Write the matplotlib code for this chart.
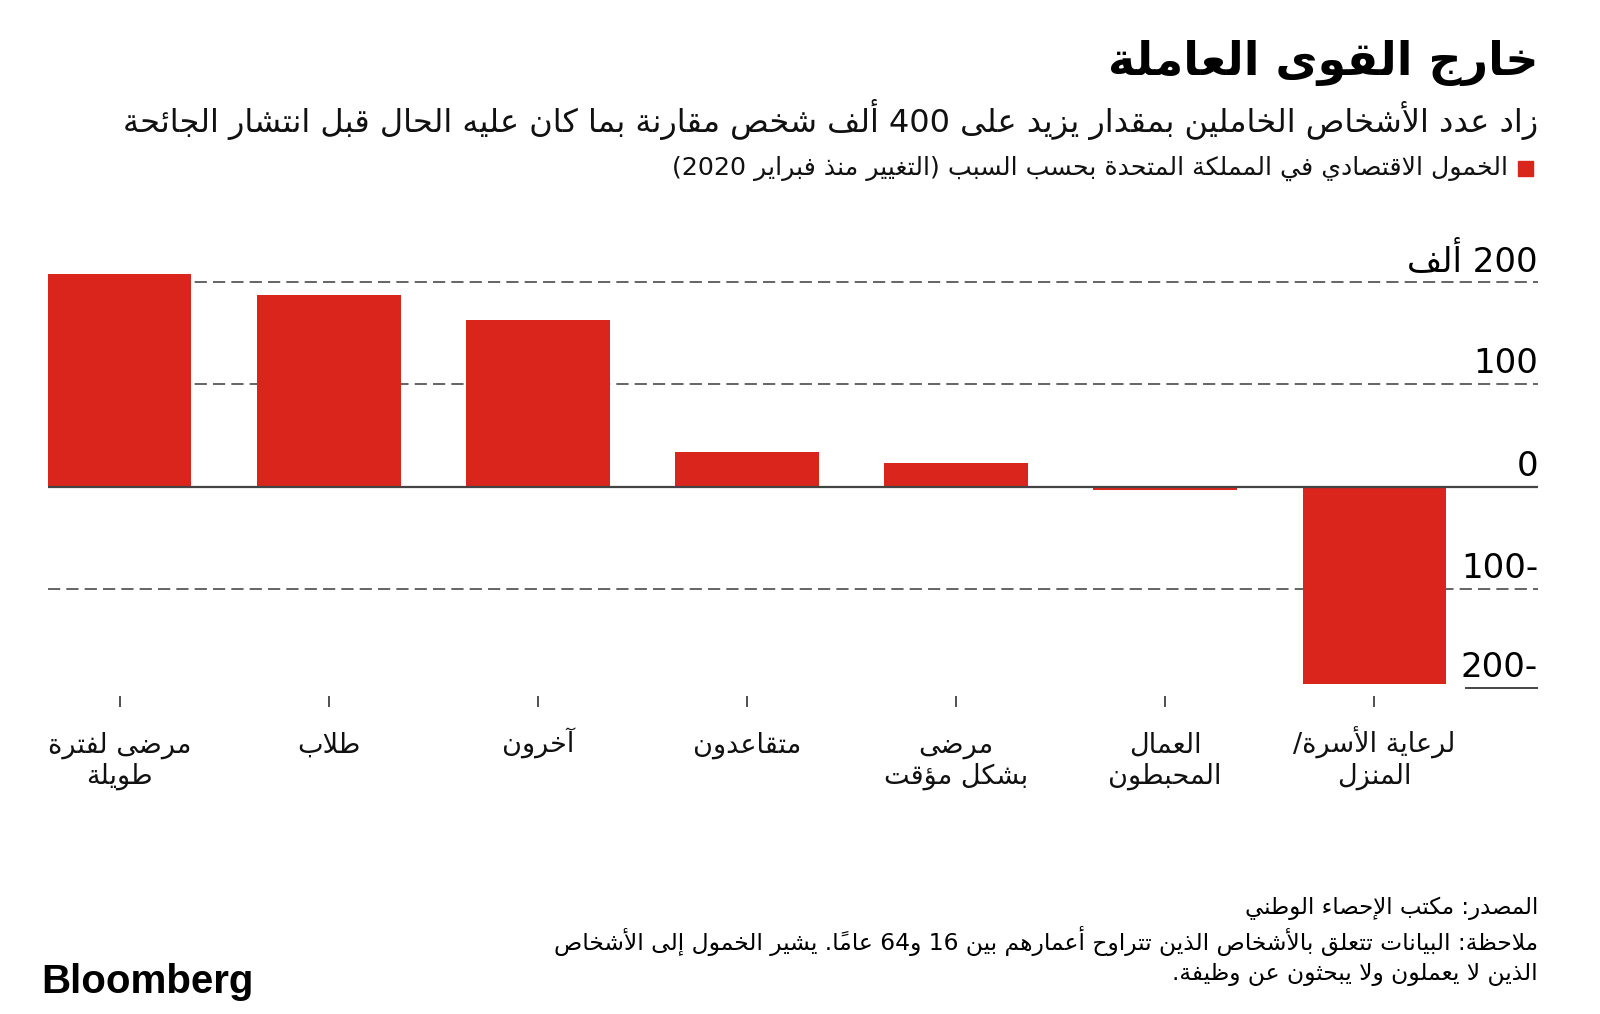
import matplotlib
matplotlib.use("Agg")
import matplotlib.pyplot as plt
from matplotlib.patches import Rectangle
import matplotlib.transforms as mtransforms

# data
categories = ["مرضى لفترة\nطويلة", "طلاب", "آخرون", "متقاعدون",
              "مرضى\nبشكل مؤقت", "العمال\nالمحبطون", "لرعاية الأسرة/\nالمنزل"]
values = [208, 187, 163, 34, 23, -3, -193]
yticks = [200, 100, 0, -100, -200]
ytick_labels = ["200 ألف", "100", "0", "-100", "-200"]

title = "خارج القوى العاملة"
subtitle = "زاد عدد الأشخاص الخاملين بمقدار يزيد على 400 ألف شخص مقارنة بما كان عليه الحال قبل انتشار الجائحة"
legend_label = "الخمول الاقتصادي في المملكة المتحدة بحسب السبب (التغيير منذ فبراير 2020)"
source = "المصدر: مكتب الإحصاء الوطني"
note = ("ملاحظة: البيانات تتعلق بالأشخاص الذين تتراوح أعمارهم بين 16 و64 عاماً. يشير الخمول إلى الأشخاص\n"
        "الذين لا يعملون ولا يبحثون عن وظيفة.")

RED = "#da251d"
GRID = "#3a3a3a"

# matplotlib has no arabic shaping, so pick presentation forms by hand
# letter -> (isolated form, number of forms: 0 none, 2 right-joining, 4 dual)
AR_FORMS = {
    'ء': (0xFE80, 0), 'آ': (0xFE81, 2), 'أ': (0xFE83, 2), 'ؤ': (0xFE85, 2),
    'إ': (0xFE87, 2), 'ئ': (0xFE89, 4), 'ا': (0xFE8D, 2), 'ب': (0xFE8F, 4),
    'ة': (0xFE93, 2), 'ت': (0xFE95, 4), 'ث': (0xFE99, 4), 'ج': (0xFE9D, 4),
    'ح': (0xFEA1, 4), 'خ': (0xFEA5, 4), 'د': (0xFEA9, 2), 'ذ': (0xFEAB, 2),
    'ر': (0xFEAD, 2), 'ز': (0xFEAF, 2), 'س': (0xFEB1, 4), 'ش': (0xFEB5, 4),
    'ص': (0xFEB9, 4), 'ض': (0xFEBD, 4), 'ط': (0xFEC1, 4), 'ظ': (0xFEC5, 4),
    'ع': (0xFEC9, 4), 'غ': (0xFECD, 4), 'ف': (0xFED1, 4), 'ق': (0xFED5, 4),
    'ك': (0xFED9, 4), 'ل': (0xFEDD, 4), 'م': (0xFEE1, 4), 'ن': (0xFEE5, 4),
    'ه': (0xFEE9, 4), 'و': (0xFEED, 2), 'ى': (0xFEEF, 2), 'ي': (0xFEF1, 4),
}
LAM_ALEF = {'آ': 0xFEF5, 'أ': 0xFEF7, 'إ': 0xFEF9, 'ا': 0xFEFB}
MIRROR = {'(': ')', ')': '('}


def is_mark(c):
    return '\u064B' <= c <= '\u0652'


def shape_line(s):
    n = len(s)

    def neighbour(i, step):
        j = i + step
        while 0 <= j < n and is_mark(s[j]):
            j += step
        return s[j] if 0 <= j < n else None

    out = []
    i = 0
    while i < n:
        c = s[i]
        if c not in AR_FORMS:
            out.append(c)
            i += 1
            continue
        prev = neighbour(i, -1)
        joins_prev = prev in AR_FORMS and AR_FORMS[prev][1] == 4
        if c == 'ل' and i + 1 < n and s[i + 1] in LAM_ALEF:
            out.append(chr(LAM_ALEF[s[i + 1]] + (1 if joins_prev else 0)))
            i += 2
            continue
        base, kind = AR_FORMS[c]
        nxt = neighbour(i, 1)
        joins_next = kind == 4 and nxt in AR_FORMS and AR_FORMS[nxt][1] > 0
        if kind == 0:
            form = base
        elif joins_prev and joins_next:
            form = base + 3
        elif joins_prev:
            form = base + 1
        elif joins_next:
            form = base + 2
        else:
            form = base
        out.append(chr(form))
        i += 1

    # clusters (base + marks), then runs of digits kept left-to-right
    clusters = []
    for c in out:
        if is_mark(c) and clusters:
            clusters[-1] += c
        else:
            clusters.append(c)
    runs = []
    for cl in clusters:
        dig = cl.isdigit()
        if runs and runs[-1][0] == dig:
            runs[-1][1].append(cl)
        else:
            runs.append([dig, [cl]])
    vis = []
    for dig, cls in reversed(runs):
        if dig:
            vis.extend(cls)
        else:
            vis.extend(MIRROR.get(x, x) for x in reversed(cls))
    return ''.join(vis)


def ar(s):
    return '\n'.join(shape_line(line) for line in s.split('\n'))


plt.rcParams['font.family'] = ['DejaVu Sans']

W, H = 1600, 1014
fig = plt.figure(figsize=(W / 100, H / 100), dpi=100)


def fx(px):
    return px / W


def fy(py):
    return 1 - py / H


ax = fig.add_axes([fx(48), fy(706.8), fx(1538) - fx(48), fy(266.6) - fy(706.8)])
x = list(range(len(values)))
ax.bar(x, values, width=0.686, color=RED, zorder=3)
ax.set_xlim(-0.343, 6.783)
ax.set_ylim(-215, 215)

for v in [200, 100, -100]:
    ax.axhline(v, color=GRID, lw=1.1, dashes=(8, 4), zorder=1)
ax.axhline(0, color='#444444', lw=1.6, zorder=4)
ax.axhline(-196.5, xmin=0.9515, xmax=1.0, color='#444444', lw=1.4, zorder=4)

ytrans = mtransforms.blended_transform_factory(ax.transAxes, ax.transData)
for v, lab in zip(yticks, ytick_labels):
    yy = v + 10.7 if v != -200 else -196.5 + 10.7
    ax.text(1.0, yy, ar(lab), transform=ytrans, ha='right', va='baseline',
            fontsize=24.5, color='black')

for s in ax.spines.values():
    s.set_visible(False)
ax.set_yticks([])
ax.set_xticks(x)
ax.set_xticklabels([])
ax.tick_params(axis='x', direction='in', length=8, width=1.2, color='#333333')

# category labels under the ticks (baseline of last line given)
xtrans = mtransforms.blended_transform_factory(ax.transData, fig.transFigure)
for xi, cat in zip(x, categories):
    n_lines = cat.count('\n') + 1
    ax.text(xi, fy(753 + 31 * (n_lines - 1)), ar(cat), transform=xtrans,
            ha='center', va='baseline', fontsize=19.5, linespacing=1.2,
            color='#111111')

# titles
fig.text(fx(1538), fy(63), ar(title), ha='right', va='center', fontsize=33,
         fontweight='bold', color='black')
fig.text(fx(1538), fy(120), ar(subtitle), ha='right', va='center', fontsize=23,
         color='#111111')
fig.patches.append(Rectangle((fx(1518), fy(176)), fx(15), 15 / H,
                             transform=fig.transFigure, color=RED))
fig.text(fx(1508), fy(168), ar(legend_label), ha='right', va='center',
         fontsize=18.2, color='#111111')

fig.text(fx(1538), fy(908), ar(source), ha='right', va='center', fontsize=16.5)
fig.text(fx(1538), fy(956), ar(note), ha='right', va='center', fontsize=16.8,
         linespacing=1.3)
fig.text(fx(41), fy(982), 'Bloomberg', ha='left', va='center', fontsize=29,
         fontweight='bold', family=['Liberation Sans', 'DejaVu Sans'])

fig.savefig('out.png', dpi=100, facecolor='white')
